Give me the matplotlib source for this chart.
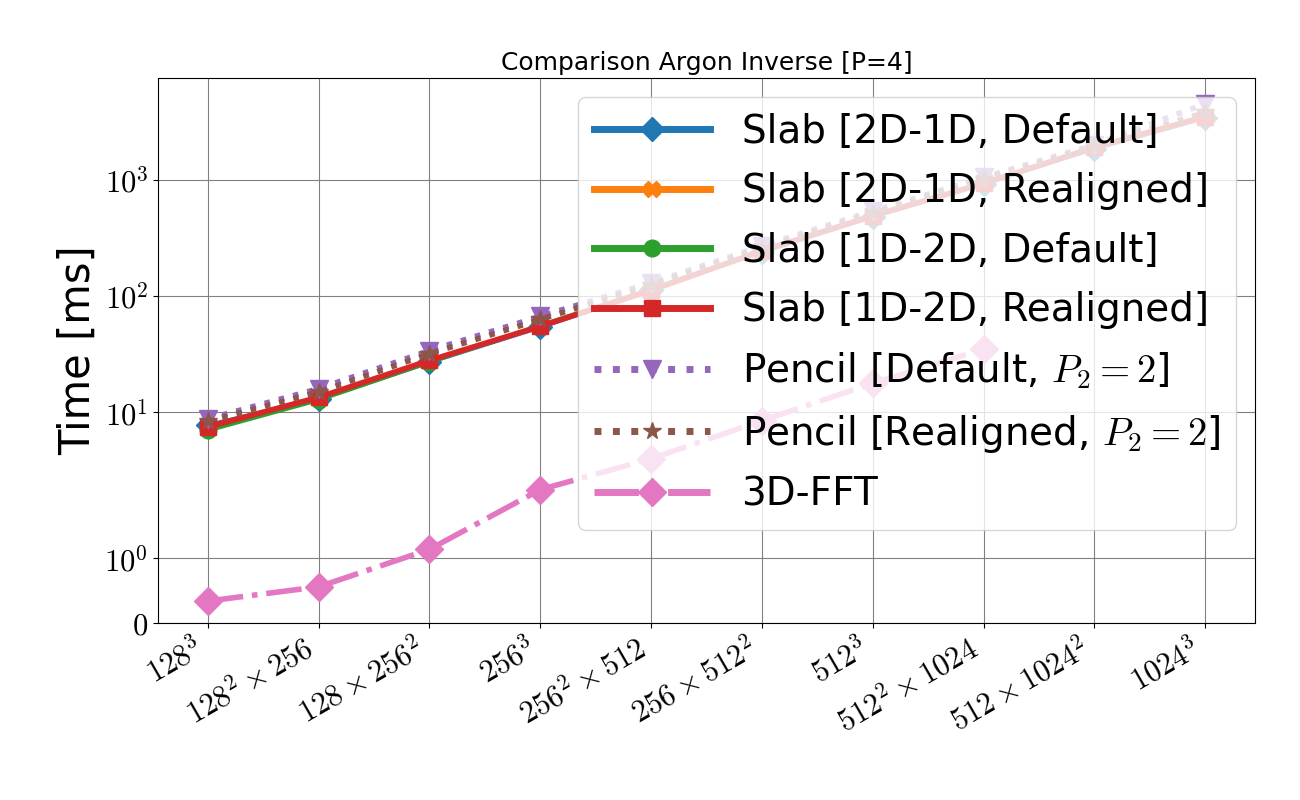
import matplotlib
matplotlib.use("Agg")
import matplotlib.pyplot as plt

plt.rcParams['mathtext.fontset'] = 'cm'

sizes = [r"$128^3$", r"$128^2\times256$", r"$128\times256^2$", r"$256^3$",
         r"$256^2\times512$", r"$256\times512^2$", r"$512^3$",
         r"$512^2\times1024$", r"$512\times1024^2$", r"$1024^3$"]

slab_2d1d_default = [7.8, 13, 27, 54, 112, 240, 480, 920, 1850, 3400]
slab_2d1d_realigned = [7.6, 13.5, 27.5, 55, 113, 245, 490, 930, 1900, 3450]
slab_1d2d_default = [7.0, 12.8, 27, 56, 115, 245, 490, 940, 1900, 3500]
slab_1d2d_realigned = [7.5, 13.5, 28, 55, 112, 245, 490, 930, 1900, 3500]
pencil_default = [8.8, 16, 34, 67, 130, 270, 540, 1050, 2000, 4500]
pencil_realigned = [8.4, 15, 32, 63, 125, 260, 520, 1020, 1950, 3800]
fft3d = [0.34, 0.56, 1.14, 2.17, 4.0, 8.5, 17.8, 35]

fig = plt.figure(figsize=(13, 8), dpi=100)
ax = fig.add_axes([158/1300, 1-623/800, (1255-158)/1300, (623-78)/800])
x = list(range(len(sizes)))

ax.plot(x, slab_2d1d_default, color='#1f77b4', marker='D', ms=12, lw=3,
        label='Slab [2D-1D, Default]')
ax.plot(x, slab_2d1d_realigned, color='#ff7f0e', marker='X', ms=12, lw=3,
        label='Slab [2D-1D, Realigned]')
ax.plot(x, slab_1d2d_default, color='#2ca02c', marker='o', ms=12, lw=3,
        label='Slab [1D-2D, Default]')
ax.plot(x, slab_1d2d_realigned, color='#d62728', marker='s', ms=12, lw=4,
        label='Slab [1D-2D, Realigned]')
ax.plot(x, pencil_default, color='#9467bd', marker='v', ms=13, lw=4, ls=':',
        label=r'Pencil [Default, $P_2=2$]')
ax.plot(x, pencil_realigned, color='#8c564b', marker='*', ms=13, lw=4, ls=':',
        label=r'Pencil [Realigned, $P_2=2$]')
ax.plot(x[:len(fft3d)], fft3d, color='#e377c2', marker='D', ms=14, lw=4, ls='-.',
        label='3D-FFT')

ax.set_yscale('symlog', linthresh=2, linscale=1)
ax.set_ylim(0, 7500)
ax.set_yticks([0, 1, 10, 100, 1000])
ax.set_yticklabels(['$0$', '$10^0$', '$10^1$', '$10^2$', '$10^3$'], fontsize=22)
ax.minorticks_off()
ax.set_xlim(-0.45, 9.45)
ax.set_xticks(x)
ax.set_xticklabels(sizes, rotation=30, ha='right', fontsize=22)
ax.grid(True, color='gray', lw=0.8)
ax.set_ylabel('Time [ms]', fontsize=30)
ax.set_title('Comparison Argon Inverse [P=4]', fontsize=18)
leg = ax.legend(loc='upper right', fontsize=28, handlelength=3, labelspacing=0.55)
for line in leg.get_lines():
    line.set_linewidth(5)

fig.savefig('out.png')
